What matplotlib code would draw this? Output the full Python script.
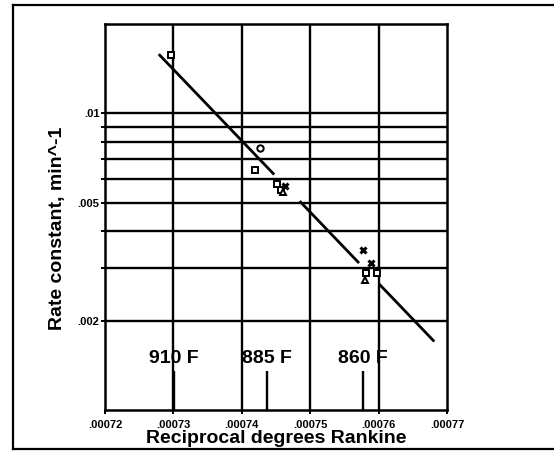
import numpy as np
import matplotlib
matplotlib.use("Agg")
import matplotlib.pyplot as plt
from matplotlib.lines import Line2D
from matplotlib.ticker import NullLocator

plt.rcParams['font.family'] = ['Liberation Sans', 'DejaVu Sans']
plt.rcParams['font.weight'] = 'bold'

# ---- data ----
x_ticks = [0.00072, 0.00073, 0.00074, 0.00075, 0.00076, 0.00077]
x_tick_labels = ['.00072', '.00073', '.00074', '.00075', '.00076', '.00077']
y_grid = [0.002, 0.003, 0.004, 0.005, 0.006, 0.007, 0.008, 0.009, 0.01]
y_labelled = {0.002: '.002', 0.005: '.005', 0.01: '.01'}
x_grid = [0.00073, 0.00074, 0.00075, 0.00076]

squares_x = [0.0007296, 0.0007419, 0.0007452, 0.0007457, 0.0007582, 0.0007598]
squares_k = [0.0157, 0.00645, 0.00580, 0.00552, 0.00289, 0.00290]
circles_x = [0.0007427]
circles_k = [0.00762]
crosses_x = [0.0007463, 0.0007577, 0.0007589]
crosses_k = [0.00569, 0.00345, 0.00313]
triangles_x = [0.0007460, 0.0007580]
triangles_k = [0.00545, 0.00275]

# fitted Arrhenius line: log10(k) = fit_a + fit_b * x, drawn in three pieces
fit_a = 15.700
fit_b = -24044.0
seg_start = [0.000728, 0.0007486, 0.0007602]
seg_end = [0.0007446, 0.0007570, 0.0007680]

temp_F = [910, 885, 860]
temp_labels = ['910 F', '885 F', '860 F']
temp_label_k = 0.00149
temp_line_top = 0.001355

# ---- figure ----
fig = plt.figure(figsize=(5.54, 4.51), dpi=100)
W, H = 554, 451
ax = fig.add_axes([105 / W, 1 - 410 / H, (447 - 105) / W, (410 - 24) / H])
ax.set_xlim(x_ticks[0], x_ticks[-1])
ax.set_yscale('log')
ax.set_ylim(0.001, 0.02)

lw_grid = 1.7
ax.hlines(y_grid, x_ticks[0], x_ticks[-1], colors='black', lw=lw_grid, zorder=1)
ax.vlines(x_grid, 0.001, 0.02, colors='black', lw=lw_grid, zorder=1)

temp_x = [1.0 / (f + 459.67) for f in temp_F]
ax.vlines(temp_x, 0.001, temp_line_top, colors='black', lw=lw_grid, zorder=1)
for tx, lab in zip(temp_x, temp_labels):
    ax.text(tx, temp_label_k, lab, ha='center', va='center', fontsize=14,
            fontweight='bold', zorder=3)

for s, e in zip(seg_start, seg_end):
    xs = np.array([s, e])
    ax.plot(xs, 10 ** (fit_a + fit_b * xs), color='black', lw=2.0, zorder=2)

mk = dict(linestyle='none', color='black', markerfacecolor='white', zorder=4)
ax.plot(squares_x, squares_k, marker='s', markersize=4.6, mew=1.4, **mk)
ax.plot(circles_x, circles_k, marker='o', markersize=4.6, mew=1.4, **mk)
ax.plot(triangles_x, triangles_k, marker='^', markersize=4.8, mew=1.4, **mk)
ax.plot(crosses_x, crosses_k, marker='x', markersize=5, mew=2.2,
        linestyle='none', color='black', zorder=4)

for sp in ax.spines.values():
    sp.set_linewidth(1.8)

ax.set_xticks(x_ticks)
ax.set_xticklabels(x_tick_labels, fontsize=8, fontweight='bold')
ax.set_yticks(y_grid)
ax.set_yticklabels([y_labelled.get(v, '') for v in y_grid], fontsize=8,
                   fontweight='bold')
ax.yaxis.set_minor_locator(NullLocator())
ax.xaxis.set_minor_locator(NullLocator())
ax.tick_params(axis='both', direction='out', length=3, width=1.4, color='black')
ax.tick_params(axis='x', pad=4)
ax.tick_params(axis='y', pad=1)

ax.set_xlabel('Reciprocal degrees Rankine', fontsize=14, fontweight='bold',
              labelpad=0)
ax.set_ylabel('Rate constant, min^-1', fontsize=14, fontweight='bold')
ax.yaxis.set_label_coords(-0.115, 0.47)

# outer frame of the scanned figure
fig.add_artist(Line2D([13 / W, 13 / W], [1 - 449 / H, 1 - 5 / H],
                      transform=fig.transFigure, color='black', lw=1.6))
fig.add_artist(Line2D([13 / W, 1.0], [1 - 5 / H, 1 - 5 / H],
                      transform=fig.transFigure, color='black', lw=1.6))
fig.add_artist(Line2D([13 / W, 1.0], [1 - 449 / H, 1 - 449 / H],
                      transform=fig.transFigure, color='black', lw=1.6))

fig.savefig('out.png', dpi=100)
